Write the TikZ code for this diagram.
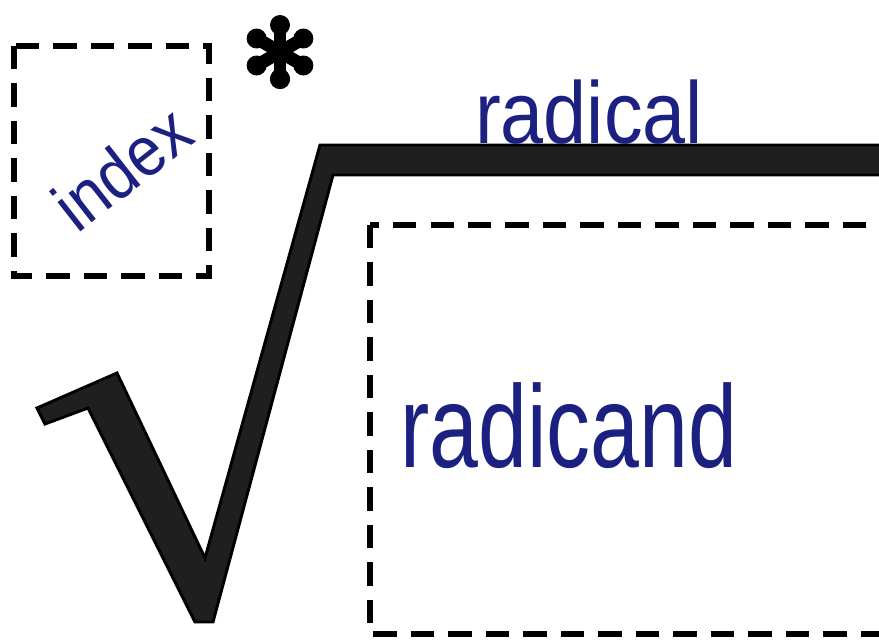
\documentclass[tikz,border=0pt]{standalone}
\usepackage{fontspec}
\setmainfont{Liberation Sans}
\definecolor{ink}{RGB}{28,32,128}
\tikzset{
  dashbox/.style={draw=black, line width=4.3pt, dash pattern=on 20pt off 12pt},
  hand/.style={text=ink, inner sep=0pt},
}

\begin{document}
\begin{tikzpicture}[x=0.03cm, y=-0.03cm]
  \clip (0,0) rectangle (879,639);

  % Dashed boxes
  \draw[dashbox] (14,46) rectangle (209,276);
  \draw[dashbox] (370,225) rectangle (884,634);

  % Radical sign
  \draw[fill=black!88, line width=2.5pt, line join=miter]
    (37,408) -- (117,373) -- (205,558) -- (320,145) -- (890,145) -- (890,175)
    -- (333,175) -- (213,622) -- (195,622) -- (88,408) -- (45,424) -- cycle;

  % Asterisk
  \coordinate (star) at (280,52);
  \foreach \a in {90,150,...,450}
    \draw[line width=11pt, line cap=round] (star) -- ++(\a:24);
  \foreach \a in {90,150,...,450}
    \fill (star) ++(\a:27) circle (10);

  % Labels
  \node[hand, rotate=38, xscale=0.9, font=\fontsize{60}{60}\selectfont] (index) at (122,168) {index};
  \node[hand, anchor=base west, xscale=0.88, font=\fontsize{75}{75}\selectfont] (radical) at (475,143) {radical};
  \node[hand, anchor=base west, xscale=0.75, font=\fontsize{100}{100}\selectfont] (radicand) at (400,467) {radicand};
\end{tikzpicture}
\end{document}
